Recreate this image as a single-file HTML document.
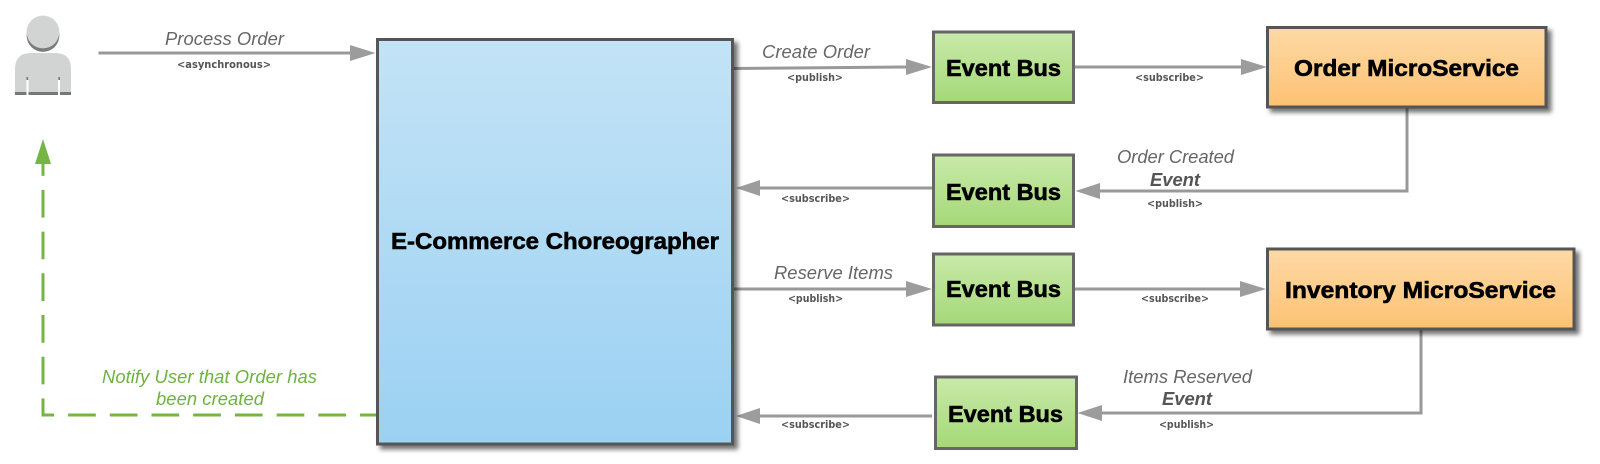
<!DOCTYPE html>
<html>
<head>
<meta charset="utf-8">
<style>
html,body{margin:0;padding:0;background:#fff;width:1600px;height:464px;overflow:hidden}
svg{display:block}
.i{font:italic 18.4px "Liberation Sans",sans-serif;fill:#666}
.ib{font:italic bold 18.4px "Liberation Sans",sans-serif;fill:#555}
.g{font:italic 18.4px "Liberation Sans",sans-serif;fill:#6db33f}
.s{font:bold 11px "DejaVu Sans","Liberation Sans",sans-serif;fill:#555}
.b{font:bold 23px "Liberation Sans",sans-serif;fill:#000;stroke:#000;stroke-width:.6}
.l{fill:none;stroke:#999;stroke-width:3}
.h{fill:#9c9c9c}
</style>
</head>
<body>
<svg width="1600" height="464" viewBox="0 0 1600 464" xmlns="http://www.w3.org/2000/svg">
<defs>
<linearGradient id="bl" x1="0" y1="0" x2="0" y2="1"><stop offset="0" stop-color="#c3e3f6"/><stop offset="1" stop-color="#9bd1f2"/></linearGradient>
<linearGradient id="gr" x1="0" y1="0" x2="0" y2="1"><stop offset="0" stop-color="#c9eaaa"/><stop offset="1" stop-color="#a5d878"/></linearGradient>
<linearGradient id="or" x1="0" y1="0" x2="0" y2="1"><stop offset="0" stop-color="#fdd9a5"/><stop offset="1" stop-color="#fdc273"/></linearGradient>
<filter id="sh" x="-10%" y="-10%" width="125%" height="130%"><feDropShadow dx="4" dy="4" stdDeviation="2.5" flood-color="#000" flood-opacity=".55"/></filter>
</defs>

<!-- user -->
<circle cx="43" cy="35.500" r="16.400" fill="#7b7b7b"/>
<circle cx="43" cy="32" r="16.400" fill="#d2d3d3"/>
<path d="M15 92V69Q15 53 31 53H55Q71 53 71 69V92Z" fill="#d2d3d3"/>
<rect x="15" y="92" width="56" height="3" fill="#777"/>
<rect x="26.500" y="80" width="2" height="15" fill="#fff"/>
<rect x="58" y="80" width="2" height="15" fill="#fff"/>
<rect x="26.500" y="77" width="1.600" height="3" fill="#777"/>
<rect x="58.400" y="77" width="1.600" height="3" fill="#777"/>

<!-- connectors -->
<path class="l" d="M98.500 53H352"/>
<path class="h" d="M350 45L375.500 53L350 61Z"/>
<path class="l" d="M733 68.500L908 67"/>
<path class="h" d="M906 59L932 67L906 75Z"/>
<path class="l" d="M1073 67H1243"/>
<path class="h" d="M1241 59L1267 67L1241 75Z"/>
<path class="l" d="M932 188H757"/>
<path class="h" d="M760 180L736 188L760 196Z"/>
<path class="l" d="M1407 107V191H1098"/>
<path class="h" d="M1100 183L1075.500 191L1100 199Z"/>
<path class="l" d="M733 289H908"/>
<path class="h" d="M906 281L932 289L906 297Z"/>
<path class="l" d="M1073 289H1242"/>
<path class="h" d="M1240 281L1266 289L1240 297Z"/>
<path class="l" d="M932 416H757"/>
<path class="h" d="M760 408L736 416L760 424Z"/>
<path class="l" d="M1421 329V413H1100"/>
<path class="h" d="M1102 405L1077.500 413L1102 421Z"/>

<!-- green dashed -->
<path d="M377 415H43V164" fill="none" stroke="#74b544" stroke-width="3" stroke-dasharray="27.700 14" stroke-dashoffset="10.700"/>
<path d="M43 139L51 164H35Z" fill="#74b544"/>

<!-- boxes -->
<rect x="377.500" y="39.500" width="355" height="404.500" fill="url(#bl)" stroke="#555" stroke-width="3" filter="url(#sh)"/>
<rect x="933.500" y="32" width="140" height="70.500" fill="url(#gr)" stroke="#666" stroke-width="3"/>
<rect x="933.500" y="155" width="140" height="71.500" fill="url(#gr)" stroke="#666" stroke-width="3"/>
<rect x="933.500" y="254" width="140" height="71" fill="url(#gr)" stroke="#666" stroke-width="3"/>
<rect x="935.500" y="377" width="141" height="71.500" fill="url(#gr)" stroke="#666" stroke-width="3"/>
<rect x="1267.500" y="27.500" width="278.500" height="79.500" fill="url(#or)" stroke="#555" stroke-width="3" filter="url(#sh)"/>
<rect x="1267.500" y="249" width="306.500" height="80" fill="url(#or)" stroke="#555" stroke-width="3" filter="url(#sh)"/>

<!-- box labels -->
<text class="b" x="391" y="249" textLength="328" lengthAdjust="spacingAndGlyphs">E-Commerce Choreographer</text>
<text class="b" x="946" y="76" textLength="115" lengthAdjust="spacingAndGlyphs">Event Bus</text>
<text class="b" x="946" y="200" textLength="115" lengthAdjust="spacingAndGlyphs">Event Bus</text>
<text class="b" x="946" y="297" textLength="115" lengthAdjust="spacingAndGlyphs">Event Bus</text>
<text class="b" x="948" y="422" textLength="115" lengthAdjust="spacingAndGlyphs">Event Bus</text>
<text class="b" x="1294" y="76" textLength="225" lengthAdjust="spacingAndGlyphs">Order MicroService</text>
<text class="b" x="1285" y="298" textLength="271" lengthAdjust="spacingAndGlyphs">Inventory MicroService</text>

<!-- connector labels -->
<text class="i" x="165" y="45" textLength="119">Process Order</text>
<text class="s" x="177" y="68" textLength="94" lengthAdjust="spacingAndGlyphs">&lt;asynchronous&gt;</text>
<text class="i" x="762" y="58" textLength="108">Create Order</text>
<text class="s" x="787" y="81" textLength="56" lengthAdjust="spacingAndGlyphs">&lt;publish&gt;</text>
<text class="s" x="1135" y="81" textLength="69" lengthAdjust="spacingAndGlyphs">&lt;subscribe&gt;</text>
<text class="s" x="781" y="202" textLength="69" lengthAdjust="spacingAndGlyphs">&lt;subscribe&gt;</text>
<text class="i" x="1117" y="163" textLength="117">Order Created</text>
<text class="ib" x="1150" y="186" textLength="50">Event</text>
<text class="s" x="1147" y="207" textLength="56" lengthAdjust="spacingAndGlyphs">&lt;publish&gt;</text>
<text class="i" x="774" y="279" textLength="119">Reserve Items</text>
<text class="s" x="788" y="302" textLength="55" lengthAdjust="spacingAndGlyphs">&lt;publish&gt;</text>
<text class="s" x="1141" y="302" textLength="68" lengthAdjust="spacingAndGlyphs">&lt;subscribe&gt;</text>
<text class="i" x="1123" y="383" textLength="129">Items Reserved</text>
<text class="ib" x="1162" y="405" textLength="50">Event</text>
<text class="s" x="1159" y="428" textLength="55" lengthAdjust="spacingAndGlyphs">&lt;publish&gt;</text>
<text class="s" x="781" y="428" textLength="69" lengthAdjust="spacingAndGlyphs">&lt;subscribe&gt;</text>
<text class="g" x="102" y="383" textLength="215">Notify User that Order has</text>
<text class="g" x="156" y="405" textLength="108">been created</text>
</svg>
</body>
</html>
